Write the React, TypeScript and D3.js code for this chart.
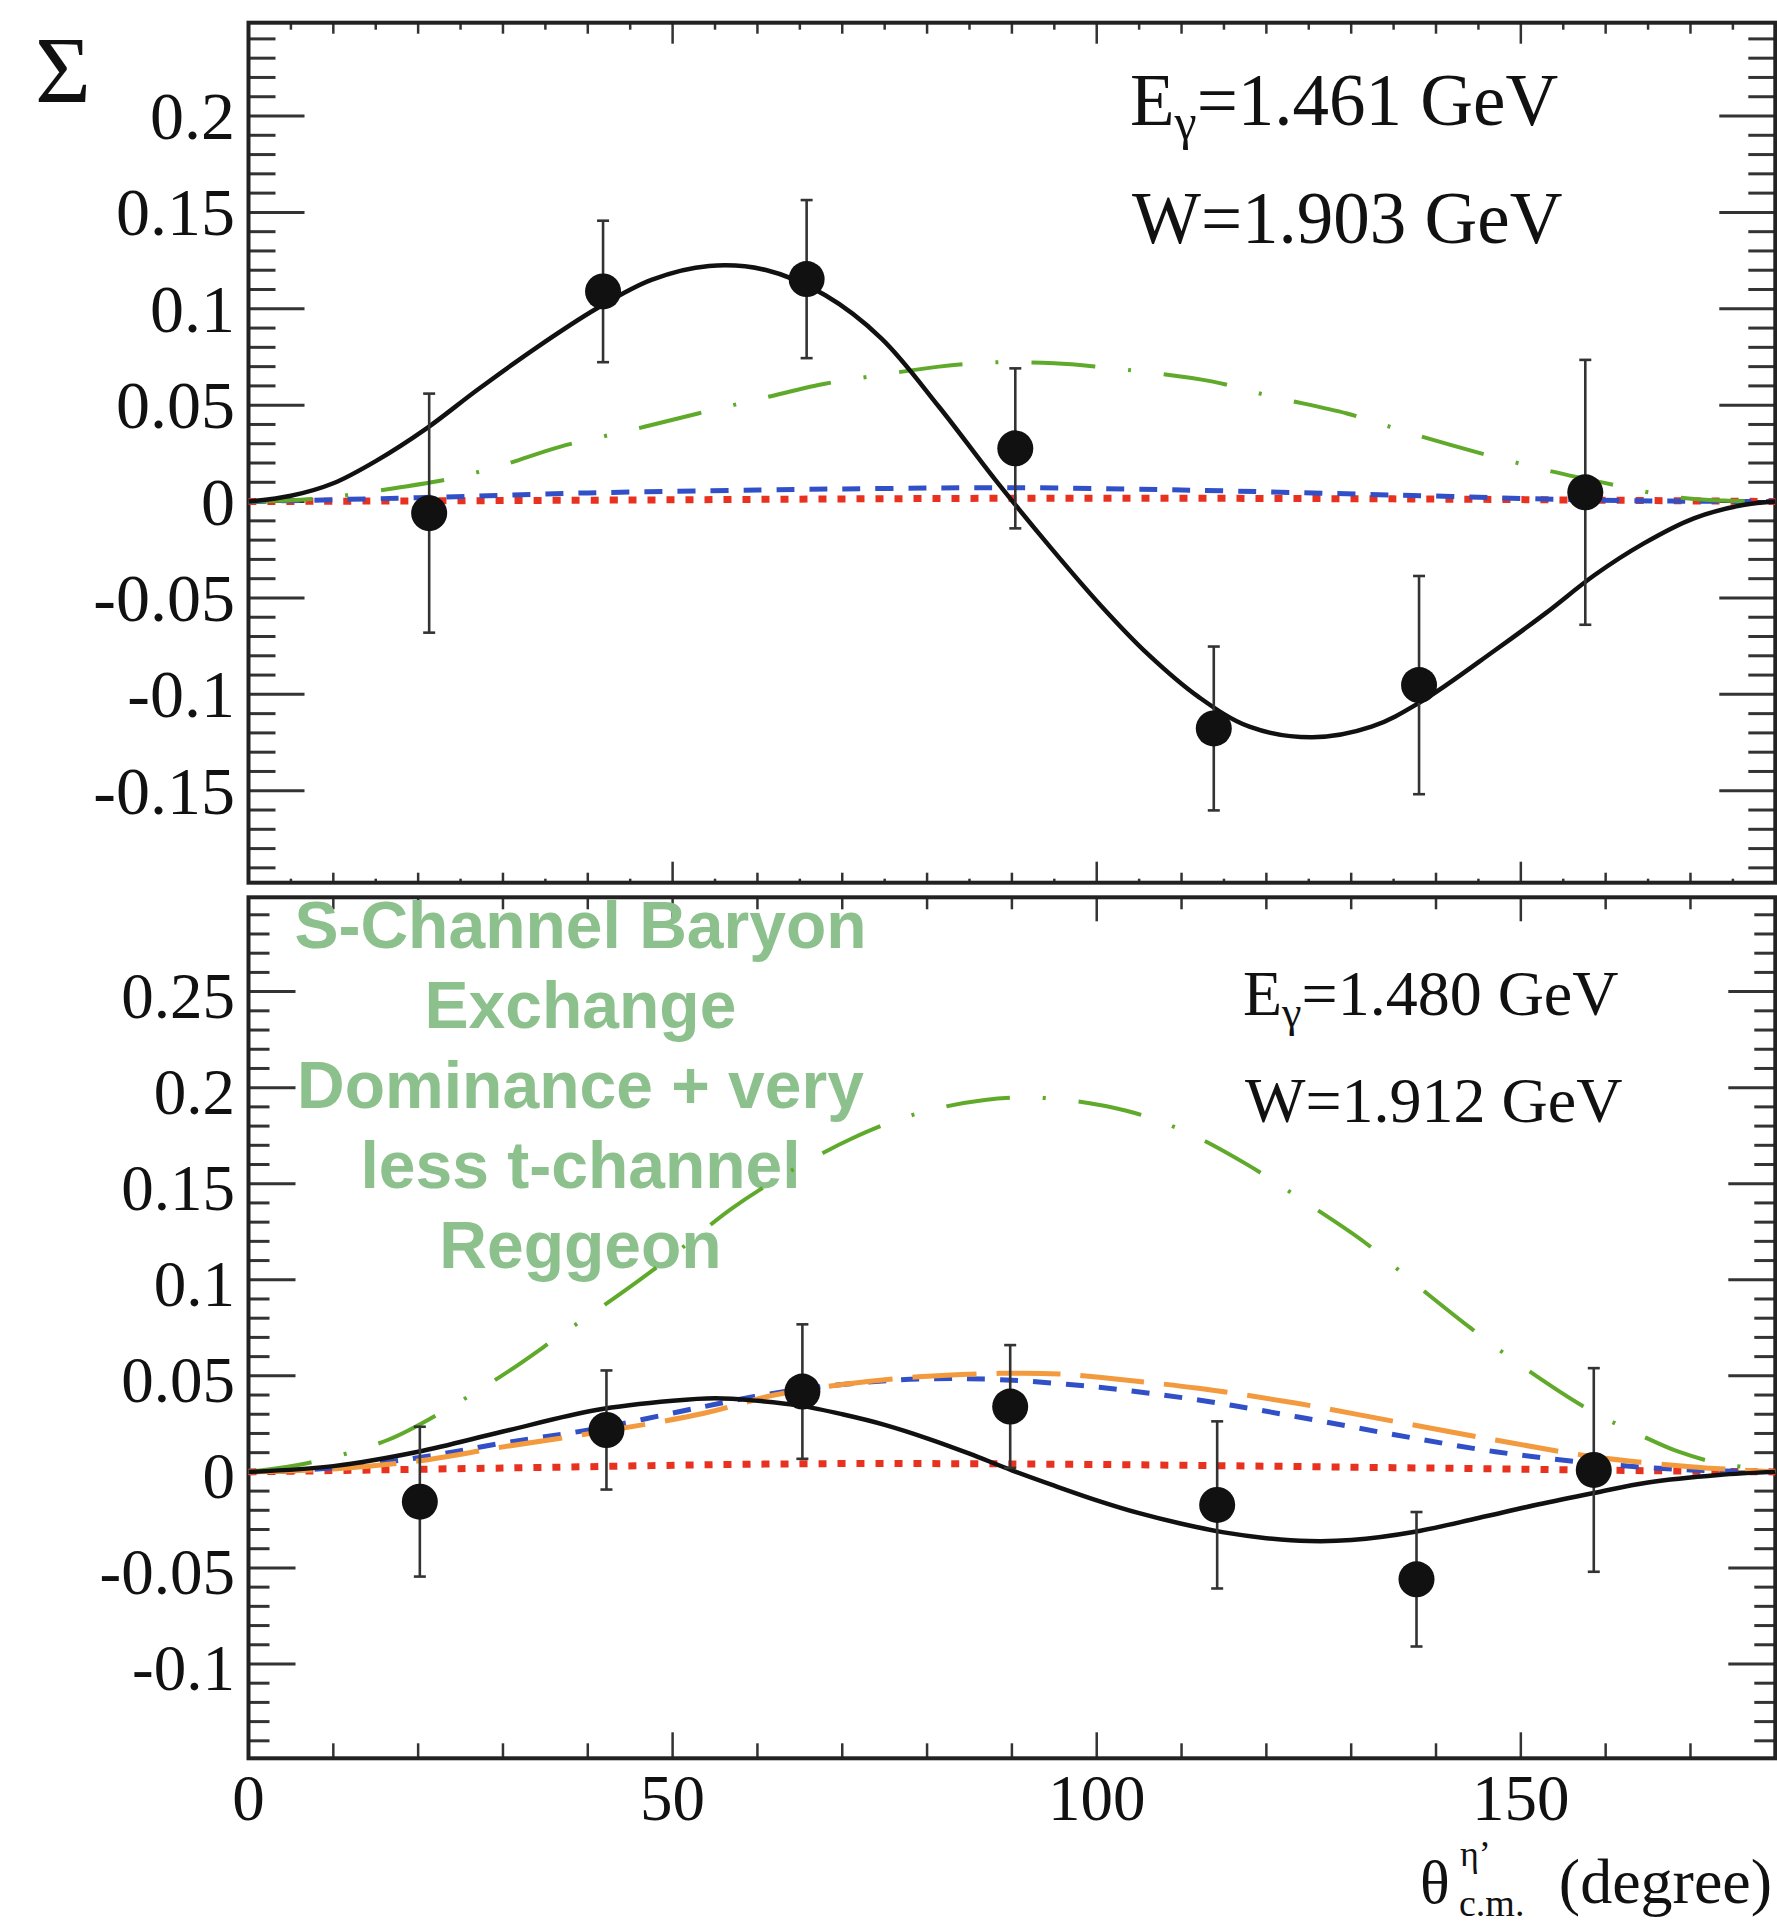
import React from "react";
import * as d3 from "d3";

// ---------- data ----------
// top panel (E_gamma = 1.461 GeV)
const topTheta = [21.3, 41.8, 65.8, 90.4, 113.8, 138.0, 157.6];
const topSigma = [-0.006, 0.109, 0.1154, 0.0276, -0.1177, -0.0952, 0.0048];
const topErr = [0.062, 0.0367, 0.041, 0.0415, 0.0425, 0.0566, 0.0687];

const topBlack: [number, number][] = [
  [0, 0], [5, 0.003], [10, 0.0095], [15, 0.021], [21, 0.038], [27, 0.058], [34, 0.08], [41, 0.1],
  [47.5, 0.115], [54.3, 0.1222], [61, 0.1201], [68, 0.107], [74.6, 0.0847], [81.4, 0.0492],
  [88, 0.0115], [94.5, -0.0235], [100.5, -0.054], [106, -0.079], [112, -0.1013],
  [118, -0.1168], [125.4, -0.1223], [132.4, -0.1168], [138.2, -0.1039], [147, -0.077],
  [152.9, -0.058], [158.7, -0.0381], [164.5, -0.0217], [170.4, -0.0087], [176.2, -0.0018], [180, 0],
];
const topGreen: [number, number][] = [
  [0, 0], [8, 0.0015], [17, 0.0068], [24, 0.012], [30, 0.019], [36.7, 0.0284], [45, 0.037],
  [53, 0.0457], [60, 0.053], [67.8, 0.061], [75, 0.066], [81.4, 0.07], [88, 0.0722],
  [95, 0.0717], [100, 0.07], [105, 0.0676], [113.7, 0.0622], [120.7, 0.0544], [129.5, 0.0457],
  [137, 0.0354], [145.3, 0.025], [153, 0.0163], [161, 0.0086], [168, 0.0025], [174, 0.0005], [180, 0],
];
const topBlue: [number, number][] = [
  [0, 0], [20, 0.002], [40, 0.0045], [60, 0.006], [75, 0.0068], [90, 0.0072], [110, 0.006],
  [135, 0.0034], [158, 0.0008], [170, 0.0002], [180, 0],
];
const topRed: [number, number][] = [
  [0, 0], [45, 0.0008], [90, 0.0017], [135, 0.0014], [180, 0],
];

// bottom panel (E_gamma = 1.480 GeV)
const botTheta = [20.2, 42.2, 65.3, 89.8, 114.2, 137.7, 158.6];
const botSigma = [-0.0155, 0.0218, 0.0418, 0.034, -0.0172, -0.0559, 0.001];
const botErr = [0.039, 0.031, 0.035, 0.032, 0.0435, 0.035, 0.053];

const botBlack: [number, number][] = [
  [0, 0], [10, 0.003], [20, 0.0105], [30, 0.021], [41, 0.0322], [50, 0.037], [55, 0.0383],
  [60, 0.037], [65, 0.0345], [70, 0.03], [75, 0.0245], [80, 0.0175], [85, 0.0095], [90, 0.0008],
  [95, -0.0072], [100, -0.0148], [105, -0.0215], [110, -0.027], [115, -0.0315], [120, -0.0345],
  [125, -0.036], [130, -0.0355], [137.7, -0.031], [145, -0.024], [152, -0.017], [158.6, -0.011],
  [165, -0.0055], [173.3, -0.0016], [180, 0],
];
const botBlue: [number, number][] = [
  [0, 0], [10, 0.002], [20.2, 0.0075], [30, 0.015], [41, 0.0225], [53.7, 0.034], [62, 0.041],
  [70, 0.0455], [79, 0.0483], [88.6, 0.048], [100.3, 0.044], [112, 0.0374], [123.6, 0.0287],
  [135.3, 0.0192], [147, 0.0105], [158.6, 0.0045], [170, 0.001], [180, 0],
];
const botOrange: [number, number][] = [
  [0, 0], [10, 0.0015], [20.2, 0.0058], [30, 0.013], [41, 0.0205], [53.7, 0.0305], [62, 0.04],
  [70, 0.0455], [79, 0.0495], [88.6, 0.0513], [95.6, 0.051], [100.3, 0.0492], [112, 0.0435],
  [123.6, 0.0357], [135.3, 0.0261], [147, 0.0166], [158.6, 0.0079], [170, 0.0027], [180, 0],
];
const botRed: [number, number][] = [
  [0, 0], [30, 0.002], [65, 0.0042], [95, 0.004], [135, 0.0022], [165, 0.0006], [180, 0],
];
const botGreen: [number, number][] = [
  [0, 0], [6.9, 0.0045], [16.4, 0.0166], [23.2, 0.0322], [30.6, 0.0522], [37.1, 0.0722],
  [44.2, 0.0938], [50.3, 0.1138], [57, 0.1372], [63.8, 0.1563], [71.2, 0.1737], [78.3, 0.1858],
  [86.8, 0.1936], [94.3, 0.1945], [103.5, 0.188], [110.5, 0.177], [117.8, 0.1598],
  [124.5, 0.1407], [131.5, 0.1198], [137.7, 0.0973], [144.1, 0.0748], [150.5, 0.0539],
  [158.1, 0.0322], [164.5, 0.0183], [168.6, 0.0105], [173.3, 0.0045], [177.4, 0.0019], [180, 0],
];

// ticks / labels
const xMajor = [0, 50, 100, 150];
const xMajorLabels = ["0", "50", "100", "150"];
const topYMajor = [-0.15, -0.1, -0.05, 0, 0.05, 0.1, 0.15, 0.2];
const topYLabels = ["-0.15", "-0.1", "-0.05", "0", "0.05", "0.1", "0.15", "0.2"];
const botYMajor = [-0.1, -0.05, 0, 0.05, 0.1, 0.15, 0.2, 0.25];
const botYLabels = ["-0.1", "-0.05", "0", "0.05", "0.1", "0.15", "0.2", "0.25"];

const noteLines = ["S-Channel Baryon", "Exchange", "Dominance + very", "less t-channel", "Reggeon"];

// ---------- layout ----------
const W = 1777;
const H = 1923;
const X0 = 248.5;
const X1 = 1775.3;
const serif = "'Liberation Serif', 'DejaVu Serif', 'Times New Roman', serif";
const axisColor = "#333";

const xScale = d3.scaleLinear().domain([0, 180]).range([X0, X1]);
const yTop = d3.scaleLinear().domain([-0.1977, 0.2484]).range([882.7, 22.7]);
const yBot = d3.scaleLinear().domain([-0.1491, 0.2991]).range([1758.3, 897.3]);

function lineFor(y: d3.ScaleLinear<number, number>) {
  return d3
    .line<[number, number]>()
    .x((d) => xScale(d[0]))
    .y((d) => y(d[1]))
    .curve(d3.curveCatmullRom.alpha(0.5));
}

type PanelProps = {
  y: d3.ScaleLinear<number, number>;
  yMajor: number[];
  yLabels: string[];
  yMajLen: number;
  yMinLen: number;
  labelSize: number;
  labelDy: number;
  xTopTicks: { five: number; ten: number; fifty: number };
  xBotTicks: { five: number; ten: number; fifty: number };
};

function Frame(p: PanelProps) {
  const { y } = p;
  const [d0, d1] = y.domain();
  const yTopPx = y.range()[1];
  const yBotPx = y.range()[0];
  const minors = d3
    .range(Math.ceil(d0 / 0.01 - 1e-6), Math.floor(d1 / 0.01 + 1e-6) + 1)
    .map((i) => i * 0.01)
    .filter((v) => Math.abs(Math.round(v / 0.05) * 0.05 - v) > 1e-6);
  const xs5 = d3.range(5, 180, 5);
  const tickLen = (t: { five: number; ten: number; fifty: number }, v: number) =>
    v % 50 === 0 ? t.fifty : v % 10 === 0 ? t.ten : t.five;
  return (
    <g>
      {minors.map((v, i) => (
        <g key={"mn" + i} stroke={axisColor} strokeWidth={3}>
          <line x1={X0} x2={X0 + p.yMinLen} y1={y(v)} y2={y(v)} />
          <line x1={X1} x2={X1 - p.yMinLen} y1={y(v)} y2={y(v)} />
        </g>
      ))}
      {p.yMajor.map((v, i) => (
        <g key={"mj" + i}>
          <line x1={X0} x2={X0 + p.yMajLen} y1={y(v)} y2={y(v)} stroke={axisColor} strokeWidth={3} />
          <line x1={X1} x2={X1 - p.yMajLen} y1={y(v)} y2={y(v)} stroke={axisColor} strokeWidth={3} />
          <text
            x={235}
            y={y(v) + p.labelDy}
            textAnchor="end"
            fontFamily={serif}
            fontSize={p.labelSize}
            fill="#111"
          >
            {p.yLabels[i]}
          </text>
        </g>
      ))}
      {xs5.map((v) => {
        const lt = tickLen(p.xTopTicks, v);
        const lb = tickLen(p.xBotTicks, v);
        return (
          <g key={"x" + v} stroke={axisColor} strokeWidth={2.5}>
            {lt > 0 && <line x1={xScale(v)} x2={xScale(v)} y1={yTopPx} y2={yTopPx + lt} />}
            {lb > 0 && <line x1={xScale(v)} x2={xScale(v)} y1={yBotPx} y2={yBotPx - lb} />}
          </g>
        );
      })}
      <rect
        x={X0}
        y={yTopPx}
        width={X1 - X0}
        height={yBotPx - yTopPx}
        fill="none"
        stroke="#222"
        strokeWidth={4}
      />
    </g>
  );
}

function Curves({
  y,
  black,
  green,
  blue,
  red,
  orange,
}: {
  y: d3.ScaleLinear<number, number>;
  black: [number, number][];
  green: [number, number][];
  blue: [number, number][];
  red: [number, number][];
  orange?: [number, number][];
}) {
  const ln = lineFor(y);
  return (
    <g fill="none">
      <path d={ln(red) || ""} stroke="#e8321f" strokeWidth={7} strokeDasharray="8 11" />
      <path d={ln(blue) || ""} stroke="#3150c8" strokeWidth={5} strokeDasharray="18 15" />
      {orange && <path d={ln(orange) || ""} stroke="#f39a3e" strokeWidth={5} strokeDasharray="64 20" />}
      <path d={ln(green) || ""} stroke="#5faa2a" strokeWidth={4} strokeDasharray="64 33 3 33" />
      <path d={ln(black) || ""} stroke="#111" strokeWidth={4.5} />
    </g>
  );
}

function Points({
  y,
  theta,
  sigma,
  err,
}: {
  y: d3.ScaleLinear<number, number>;
  theta: number[];
  sigma: number[];
  err: number[];
}) {
  return (
    <g>
      {theta.map((t, i) => {
        const cx = xScale(t);
        const yu = y(sigma[i] + err[i]);
        const yd = y(sigma[i] - err[i]);
        return (
          <g key={i} stroke="#333" strokeWidth={2.6}>
            <line x1={cx} x2={cx} y1={yu} y2={yd} />
            <line x1={cx - 6} x2={cx + 6} y1={yu} y2={yu} />
            <line x1={cx - 6} x2={cx + 6} y1={yd} y2={yd} />
            <circle cx={cx} cy={y(sigma[i])} r={18} fill="#111" stroke="none" />
          </g>
        );
      })}
    </g>
  );
}

export default function App() {
  const topProps: PanelProps = {
    y: yTop,
    yMajor: topYMajor,
    yLabels: topYLabels,
    yMajLen: 56,
    yMinLen: 27,
    labelSize: 68,
    labelDy: 23,
    xTopTicks: { five: 7, ten: 11, fifty: 21 },
    xBotTicks: { five: 4, ten: 10, fifty: 21 },
  };
  const botProps: PanelProps = {
    y: yBot,
    yMajor: botYMajor,
    yLabels: botYLabels,
    yMajLen: 47,
    yMinLen: 21,
    labelSize: 65,
    labelDy: 26,
    xTopTicks: { five: 0, ten: 12, fifty: 24 },
    xBotTicks: { five: 0, ten: 15, fifty: 26 },
  };
  return (
    <svg
      width={W}
      height={H}
      viewBox={`0 0 ${W} ${H}`}
      style={{ position: "absolute", left: 0, top: 0, background: "#fff" }}
    >
      <rect x={0} y={0} width={W} height={H} fill="#fff" />
      {/* top panel */}
      <Frame {...topProps} />
      <Curves y={yTop} black={topBlack} green={topGreen} blue={topBlue} red={topRed} />
      <Points y={yTop} theta={topTheta} sigma={topSigma} err={topErr} />
      <text x={35} y={103} fontFamily={serif} fontSize={96} fill="#111">
        Σ
      </text>
      <text x={1130} y={125} fontFamily={serif} fontSize={73} fill="#111">
        E
        <tspan fontSize={50} dy={14}>γ</tspan>
        <tspan dy={-14}>=1.461 GeV</tspan>
      </text>
      <text x={1132} y={243} fontFamily={serif} fontSize={73} fill="#111">
        W=1.903 GeV
      </text>

      {/* bottom panel */}
      <Frame {...botProps} />
      <g fontFamily="'Liberation Sans', Arial, Helvetica, sans-serif" fontWeight="bold" fontSize={66} fill="#8cc08c" textAnchor="middle">
        {noteLines.map((s, i) => (
          <text key={i} x={580.5} y={948.3 + i * 80}>
            {s}
          </text>
        ))}
      </g>
      <Curves y={yBot} black={botBlack} green={botGreen} blue={botBlue} red={botRed} orange={botOrange} />
      <Points y={yBot} theta={botTheta} sigma={botSigma} err={botErr} />
      <text x={1243} y={1015} fontFamily={serif} fontSize={64} fill="#111">
        E
        <tspan fontSize={44} dy={12}>γ</tspan>
        <tspan dy={-12}>=1.480 GeV</tspan>
      </text>
      <text x={1245} y={1121.7} fontFamily={serif} fontSize={64} fill="#111">
        W=1.912 GeV
      </text>

      {/* x axis labels */}
      {xMajor.map((v, i) => (
        <text key={v} x={xScale(v)} y={1820} textAnchor="middle" fontFamily={serif} fontSize={65} fill="#111">
          {xMajorLabels[i]}
        </text>
      ))}
      <text x={1420} y={1903} fontFamily={serif} fontSize={62} fill="#111">
        θ
      </text>
      <text x={1460} y={1866} fontFamily={serif} fontSize={36} fill="#111">
        η’
      </text>
      <text x={1459} y={1916} fontFamily={serif} fontSize={38} fill="#111">
        c.m.
      </text>
      <text x={1772} y={1903} textAnchor="end" fontFamily={serif} fontSize={64} fill="#111">
        (degree)
      </text>
    </svg>
  );
}
